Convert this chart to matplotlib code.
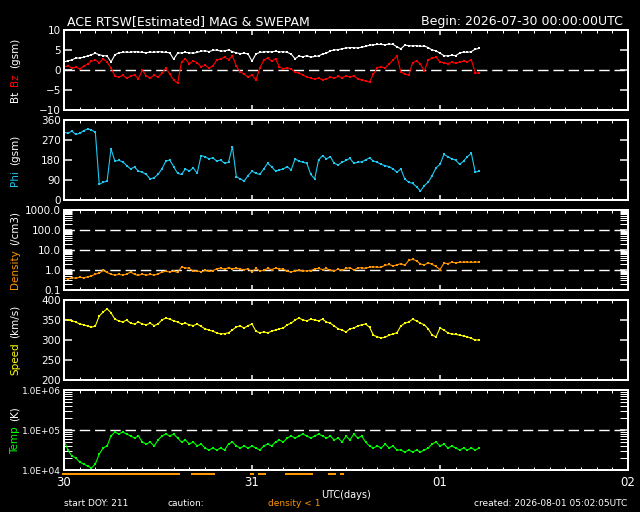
import numpy as np
import matplotlib
matplotlib.use("Agg")
import matplotlib.pyplot as plt
from matplotlib.ticker import FixedLocator, MultipleLocator, LogLocator, NullFormatter

# ---------------------------------------------------------------
# Data (30-min samples from 2026-07-30 00:00 UTC)
# ---------------------------------------------------------------
bt_total = [
    2.0, 2.3, 2.5, 3.0, 3.0, 3.2, 3.5, 3.8, 4.2, 3.8,
    3.6, 3.5, 2.0, 3.8, 4.3, 4.4, 4.5, 4.4, 4.6, 4.5,
    4.4, 4.3, 4.5, 4.4, 4.6, 4.5, 4.4, 4.3, 2.7, 4.2,
    4.3, 4.4, 4.3, 4.2, 4.4, 4.7, 4.8, 4.6, 4.9, 5.0,
    4.7, 4.8, 5.0, 4.6, 4.3, 4.1, 4.2, 4.0, 2.2, 4.0,
    4.4, 4.5, 4.6, 4.5, 4.7, 4.5, 4.6, 4.4, 4.0, 2.8,
    3.5, 3.3, 3.6, 3.2, 3.4, 3.5, 4.0, 4.2, 4.8, 5.0,
    5.1, 5.3, 5.5, 5.6, 5.6, 5.5, 5.7, 5.9, 6.2, 6.3,
    6.4, 6.4, 6.3, 6.5, 6.4, 5.8, 5.3, 6.2, 6.1, 6.0,
    6.1, 5.9, 6.0, 5.6, 5.0, 4.8, 4.2, 3.6, 3.5, 3.7,
    3.6, 4.2, 4.5, 4.4, 4.6, 5.2, 5.4,
]
bz_gsm = [
    0.8, 1.0, 0.5, 0.7, 0.3, 0.9, 1.5, 2.2, 2.5, 1.8,
    2.8, 2.0, 0.5, -1.5, -1.8, -1.3, -2.0, -1.6, -1.2, -2.2,
    0.0, -1.5, -2.0, -1.3, -1.8, -0.8, 0.5, -1.0, -2.5, -3.3,
    2.0, 2.8, 1.5, 2.3, 1.8, 0.8, 1.2, 0.5, 1.0, 2.5,
    2.8, 3.2, 2.6, 3.5, 1.0, -0.5, -1.0, -1.8, -1.2, -2.5,
    0.5, 2.5, 3.0, 2.2, 2.8, 0.8, 0.3, 0.6, 0.2, -0.5,
    -0.8, -1.2, -1.8, -2.0, -2.3, -2.0, -2.5, -2.2, -1.8, -2.0,
    -1.6, -1.9, -1.5, -1.7, -1.5, -2.2, -2.5, -2.8, -3.0, -1.0,
    0.6, 0.8, 0.5, 1.5, 2.5, 3.5, -0.5, -1.0, -1.3, 1.8,
    2.3, 1.5, -0.3, 2.5, 3.0, 3.2, 2.0, 1.8, 1.6, 1.9,
    1.7, 2.0, 2.2, 2.1, 2.5, -0.7, -0.8,
]
phi_gsm = [
    305, 300, 310, 295, 300, 312, 320, 315, 305, 70,
    80, 85, 230, 175, 178, 172, 155, 140, 148, 130,
    125, 115, 95, 100, 115, 140, 175, 180, 150, 120,
    115, 140, 130, 145, 120, 200, 195, 185, 190, 175,
    180, 165, 170, 240, 105, 95, 85, 110, 130, 120,
    115, 140, 165, 150, 130, 135, 140, 150, 135, 185,
    175, 170, 165, 115, 95, 180, 200, 185, 195, 165,
    158, 170, 178, 188, 165, 170, 172, 180, 190, 175,
    170, 160, 155, 150, 140, 125, 140, 95, 80, 75,
    60, 40, 65, 80, 110, 145, 160, 205, 195, 185,
    180, 160, 175, 195, 210, 125, 130,
]
density = [
    0.40, 0.36, 0.42, 0.38, 0.44, 0.40, 0.46, 0.50, 0.62, 0.70,
    0.95, 0.75, 0.62, 0.55, 0.60, 0.56, 0.62, 0.80, 0.60, 0.54,
    0.62, 0.55, 0.60, 0.56, 0.64, 0.78, 0.85, 0.80, 0.88, 0.75,
    1.40, 1.30, 1.20, 0.85, 0.92, 0.80, 0.95, 0.85, 0.92, 1.15,
    1.25, 1.10, 1.30, 1.15, 1.25, 1.10, 1.05, 1.15, 0.80, 1.20,
    0.90, 0.95, 1.20, 1.05, 1.25, 1.15, 1.10, 0.85, 0.80, 0.90,
    0.95, 0.88, 0.92, 0.90, 1.15, 1.20, 1.05, 1.20, 0.95, 0.90,
    1.10, 0.95, 1.20, 1.30, 1.00, 1.25, 1.30, 1.20, 1.40, 1.45,
    1.35, 1.40, 1.70, 1.90, 1.60, 1.80, 2.10, 1.70, 3.00, 3.40,
    2.90, 2.00, 1.80, 2.30, 1.90, 1.50, 1.05, 2.20, 2.10, 2.40,
    2.30, 2.40, 2.50, 2.50, 2.40, 2.50, 2.50,
]
speed = [
    352, 350, 348, 345, 340, 338, 335, 332, 335, 360,
    370, 378, 368, 352, 348, 345, 350, 342, 340, 345,
    340, 338, 342, 336, 340, 350, 355, 352, 348, 345,
    340, 342, 338, 336, 340, 334, 328, 325, 322, 318,
    315, 316, 318, 325, 333, 335, 330, 336, 340, 322,
    318, 320, 318, 322, 325, 328, 330, 338, 342, 350,
    355, 350, 348, 352, 350, 348, 352, 345, 342, 335,
    328, 325, 320, 328, 330, 335, 338, 340, 332, 312,
    308, 305, 307, 312, 315, 318, 335, 342, 345, 352,
    348, 342, 338, 328, 312, 308, 330, 325, 318, 315,
    314, 312, 310, 308, 304, 300, 300,
]
temperature = [
    56200, 31600, 22400, 20000, 15800, 14100, 12600, 11200, 14100, 25100,
    35500, 39800, 70800, 89100, 79400, 89100, 79400, 70800, 63100, 70800,
    50100, 44700, 50100, 39800, 56200, 70800, 79400, 70800, 79400, 63100,
    50100, 56200, 44700, 50100, 39800, 44700, 35500, 31600, 35500, 31600,
    35500, 31600, 44700, 50100, 39800, 35500, 39800, 35500, 39800, 35500,
    31600, 39800, 44700, 39800, 50100, 56200, 50100, 63100, 70800, 63100,
    70800, 79400, 70800, 63100, 70800, 79400, 70800, 63100, 70800, 56200,
    63100, 50100, 70800, 56200, 79400, 63100, 70800, 50100, 39800, 35500,
    39800, 35500, 44700, 35500, 39800, 31600, 31600, 28200, 31600, 28200,
    31600, 28200, 31600, 35500, 44700, 50100, 39800, 44700, 35500, 39800,
    35500, 31600, 35500, 31600, 35500, 31600, 35500,
]

hours = np.arange(len(bt_total)) * 0.5   # 30-minute cadence

day_ticks = [0, 24, 48, 72]
day_labels = ["30", "31", "01", "02"]
dens_ticks = [0.1, 1, 10, 100, 1000]
dens_labels = ["0.1", "1.0", "10.0", "100.0", "1000.0"]
temp_ticks = [1e4, 1e5, 1e6]
temp_labels = ["1.0E+04", "1.0E+05", "1.0E+06"]

# ---------------------------------------------------------------
# Styling
# ---------------------------------------------------------------
W, H = 640, 512
def pt(n):
    return n * 0.72   # pixels -> points at 100 dpi

c_white = "white"
c_red = "#ff0000"
c_cyan = "#1ec8f0"
c_orange = "#ff9600"
c_yellow = "#ffff00"
c_green = "#00ff00"

fs_tick = 7.5
fs_title = 9

fig = plt.figure(figsize=(6.4, 5.12), dpi=100, facecolor="black")

panel_tops = [30, 120, 210, 300, 390]
axes = []
for top in panel_tops:
    ax = fig.add_axes([64 / W, 1 - (top + 80) / H, 564 / W, 80 / H], facecolor="black")
    for sp in ax.spines.values():
        sp.set_color(c_white)
        sp.set_linewidth(pt(2))
    ax.set_xlim(0, 72)
    ax.xaxis.set_major_locator(FixedLocator(day_ticks))
    ax.xaxis.set_minor_locator(MultipleLocator(2))
    ax.tick_params(which="both", direction="in", colors=c_white, top=True, bottom=True,
                   left=True, right=True, labelsize=fs_tick)
    ax.tick_params(which="major", width=pt(1.5))
    ax.tick_params(which="minor", width=pt(1))
    ax.tick_params(axis="x", which="major", length=pt(5))
    ax.tick_params(axis="x", which="minor", length=pt(3))
    ax.tick_params(axis="y", which="both", length=pt(8), pad=pt(3))
    ax.tick_params(axis="x", labelbottom=False)
    axes.append(ax)

ax_b, ax_phi, ax_n, ax_v, ax_t = axes

def trace(ax, y, color):
    ax.plot(hours, y, color=color, lw=0.8, marker="s", ms=2.0, mew=0)

def dashed(ax, y):
    ax.axhline(y, color=c_white, lw=1.0, dashes=(7.5, 3.5), zorder=0)

# Bt / Bz
dashed(ax_b, 0)
trace(ax_b, bt_total, c_white)
trace(ax_b, bz_gsm, c_red)
ax_b.set_ylim(-10, 10)
ax_b.set_yticks([-10, -5, 0, 5, 10])

# Phi
trace(ax_phi, phi_gsm, c_cyan)
ax_phi.set_ylim(0, 360)
ax_phi.set_yticks([0, 90, 180, 270, 360])

# Density
ax_n.set_yscale("log")
for lvl in [1, 10, 100]:
    dashed(ax_n, lvl)
trace(ax_n, density, c_orange)
ax_n.set_ylim(0.1, 1000)
ax_n.set_yticks(dens_ticks, dens_labels)
ax_n.yaxis.set_minor_locator(LogLocator(subs=np.arange(2, 10)))
ax_n.yaxis.set_minor_formatter(NullFormatter())

# Speed
trace(ax_v, speed, c_yellow)
ax_v.set_ylim(200, 400)
ax_v.set_yticks([200, 250, 300, 350, 400])

# Temperature
ax_t.set_yscale("log")
dashed(ax_t, 1e5)
trace(ax_t, temperature, c_green)
ax_t.set_ylim(1e4, 1e6)
ax_t.set_yticks(temp_ticks, temp_labels)
ax_t.yaxis.set_minor_locator(LogLocator(subs=np.arange(2, 10)))
ax_t.yaxis.set_minor_formatter(NullFormatter())
ax_t.tick_params(axis="y", labelsize=6.5)
ax_t.tick_params(axis="x", labelbottom=True, labelsize=8.5, pad=pt(6))
ax_t.set_xticks(day_ticks, day_labels)

# caution bar: density < 1
low = np.array(density) < 1
ax_t.hlines(np.full(low.sum(), -0.055), hours[low] - 0.25, hours[low] + 0.25,
            transform=ax_t.get_xaxis_transform(), color=c_orange, lw=pt(2), clip_on=False)

# ---------------------------------------------------------------
# Texts
# ---------------------------------------------------------------
fig.text(67 / W, 1 - 25 / H, "ACE RTSW[Estimated] MAG & SWEPAM", color=c_white,
         fontsize=fs_title, ha="left", va="baseline")
fig.text(623 / W, 1 - 25 / H, "Begin: 2026-07-30 00:00:00UTC", color=c_white,
         fontsize=fs_title, ha="right", va="baseline")

fig.text(346 / W, 1 - 495 / H, "UTC(days)", color=c_white, fontsize=7, ha="center", va="center")
fig.text(64 / W, 1 - 504 / H, "start DOY: 211", color=c_white, fontsize=6.5, ha="left", va="center")
fig.text(167 / W, 1 - 504 / H, "caution:", color=c_white, fontsize=6.5, ha="left", va="center")
fig.text(268 / W, 1 - 504 / H, "density < 1", color=c_orange, fontsize=6.5, ha="left", va="center")
fig.text(627 / W, 1 - 504 / H, "created: 2026-08-01 05:02:05UTC", color=c_white,
         fontsize=6.5, ha="right", va="center")

# multi-coloured vertical axis labels
ylabels = [
    [("Bt", c_white), ("Bz", c_red), ("(gsm)", c_white)],
    [("Phi", c_cyan), ("(gsm)", c_white)],
    [("Density", c_orange), ("(/cm3)", c_white)],
    [("Speed", c_yellow), ("(km/s)", c_white)],
    [("Temp", c_green), ("(K)", c_white)],
]
label_x = 15 / W
gap_px = 5
label_texts = []
for top, parts in zip(panel_tops, ylabels):
    items = [fig.text(label_x, 0.5, s, color=c, fontsize=fs_tick, rotation=90,
                      ha="center", va="bottom") for s, c in parts]
    label_texts.append((top, items))

fig.canvas.draw()
renderer = fig.canvas.get_renderer()
for top, items in label_texts:
    heights = [t.get_window_extent(renderer).height for t in items]
    total = sum(heights) + gap_px * (len(items) - 1)
    y0 = (H - (top + 40)) - total / 2
    for t, h in zip(items, heights):
        t.set_position((label_x, y0 / H))
        y0 += h + gap_px

fig.savefig("out.png", dpi=100, facecolor="black")
